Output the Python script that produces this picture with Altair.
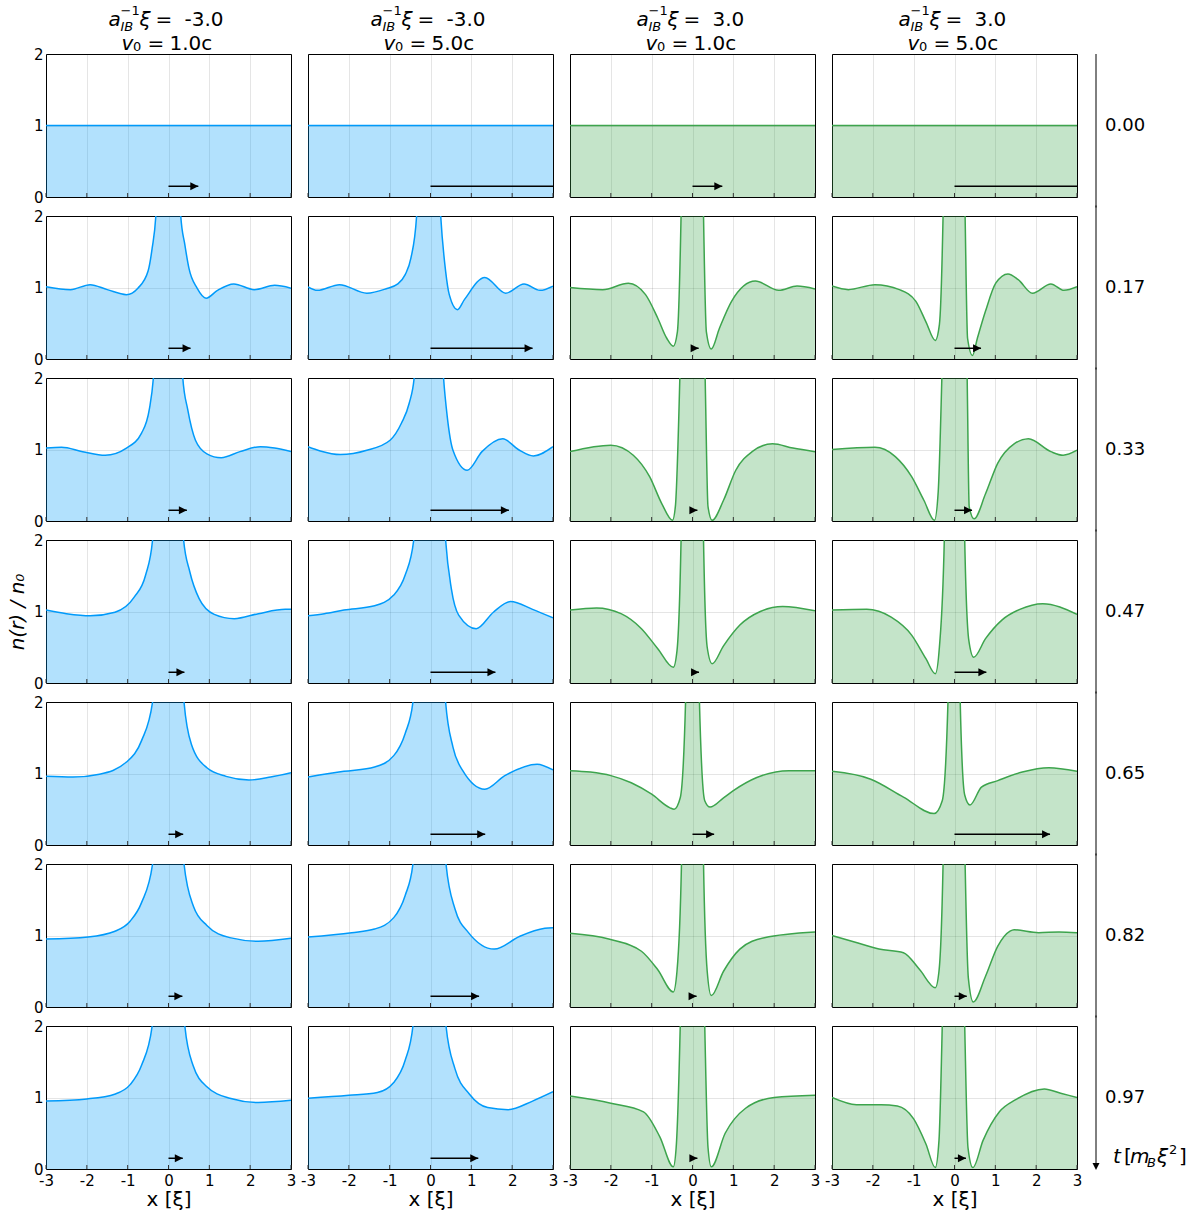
import altair as alt
import pandas as pd

FONT = "DejaVu Sans"
W, H = 245, 143          # size of one density panel
GAP_X, GAP_Y = 17, 19    # spacing between panels
TIME_W = 100             # width of the time-axis column

X_TICKS = [-3, -2, -1, 0, 1, 2, 3]
Y_TICKS = [0, 1, 2]
TIMES = ["0.00", "0.17", "0.33", "0.47", "0.65", "0.82", "0.97"]
COUPLING = ["-3.0", "-3.0", "3.0", "3.0"]
V0 = ["1.0c", "5.0c", "1.0c", "5.0c"]
COLORS = ["#009AFA", "#009AFA", "#3DA44D", "#3DA44D"]

# impurity velocity arrows (length in units of xi), one list per column
ARROW_C1 = [0.73, 0.54, 0.45, 0.39, 0.36, 0.34, 0.35]
ARROW_C2 = [3.65, 2.50, 1.92, 1.59, 1.34, 1.19, 1.17]
ARROW_C3 = [0.73, 0.15, 0.12, 0.16, 0.53, 0.10, 0.12]
ARROW_C4 = [3.65, 0.65, 0.43, 0.78, 2.34, 0.30, 0.28]

FLAT = [(-3.0, 1.0), (3.0, 1.0)]

# attractive coupling, v0 = 1.0c
NEG_SLOW_017 = [(-3, 1.01), (-2.4, 0.97), (-1.92, 1.04), (-1.5, 0.97), (-1.03, 0.90), (-0.75, 0.99),
                (-0.5, 1.23), (-0.4, 1.55), (-0.31, 2.0), (-0.2, 3.5), (0.0, 6.0), (0.2, 3.5), (0.30, 2.0),
                (0.4, 1.6), (0.5, 1.27), (0.7, 0.99), (0.92, 0.85), (1.2, 0.96), (1.6, 1.05), (2.1, 0.97),
                (2.6, 1.03), (3, 0.99)]
NEG_SLOW_033 = [(-3, 1.02), (-2.62, 1.03), (-2.1, 0.97), (-1.55, 0.92), (-1.03, 1.02), (-0.66, 1.23),
                (-0.47, 1.56), (-0.37, 2.0), (-0.2, 4.0), (0.0, 6.0), (0.2, 4.0), (0.35, 2.0), (0.47, 1.56),
                (0.66, 1.13), (0.94, 0.94), (1.29, 0.885), (1.75, 0.97), (2.25, 1.04), (2.6, 1.02), (3, 0.97)]
NEG_SLOW_047 = [(-3, 1.02), (-2.5, 0.97), (-1.92, 0.94), (-1.31, 0.99), (-0.84, 1.2), (-0.56, 1.51),
                (-0.39, 2.0), (-0.2, 4.0), (0.0, 6.0), (0.2, 4.0), (0.37, 2.0), (0.52, 1.56), (0.75, 1.18),
                (1.12, 0.96), (1.61, 0.9), (2.2, 0.97), (2.86, 1.03), (3, 1.03)]
NEG_SLOW_065 = [(-3, 0.96), (-2.34, 0.95), (-1.69, 0.99), (-1.03, 1.16), (-0.66, 1.46), (-0.39, 2.0),
                (-0.2, 4.0), (0.0, 6.0), (0.2, 4.0), (0.38, 2.0), (0.56, 1.41), (0.94, 1.08), (1.41, 0.96),
                (1.97, 0.91), (2.5, 0.95), (3, 1.01)]
NEG_SLOW_082 = [(-3, 0.95), (-1.97, 0.98), (-1.31, 1.06), (-0.94, 1.2), (-0.66, 1.46), (-0.39, 2.0),
                (-0.2, 4.0), (0.0, 6.0), (0.2, 4.0), (0.38, 2.0), (0.61, 1.41), (0.94, 1.14), (1.5, 0.97),
                (2.2, 0.92), (3, 0.96)]
NEG_SLOW_097 = [(-3, 0.95), (-2, 0.98), (-1.3, 1.05), (-0.94, 1.18), (-0.66, 1.45), (-0.4, 2.0),
                (-0.2, 4.0), (0.0, 6.0), (0.2, 4.0), (0.4, 2.0), (0.6, 1.45), (0.94, 1.15), (1.5, 0.99),
                (2.2, 0.93), (3, 0.96)]

# attractive coupling, v0 = 5.0c
NEG_FAST_017 = [(-3, 1.01), (-2.77, 0.96), (-2.23, 1.04), (-1.56, 0.92), (-1.1, 0.98), (-0.8, 1.05),
                (-0.62, 1.18), (-0.48, 1.41), (-0.34, 2.0), (-0.2, 4.0), (0.0, 6.0), (0.1, 4.0), (0.25, 2.0),
                (0.37, 1.23), (0.46, 0.9), (0.66, 0.69), (0.83, 0.83), (1.33, 1.14), (1.84, 0.92),
                (2.29, 1.05), (2.68, 0.96), (3, 1.02)]
NEG_FAST_033 = [(-3, 1.04), (-2.7, 0.98), (-2.21, 0.93), (-1.56, 0.99), (-0.99, 1.13), (-0.71, 1.37),
                (-0.52, 1.65), (-0.40, 2.0), (-0.2, 4.0), (0.0, 6.0), (0.15, 4.0), (0.32, 2.0), (0.41, 1.46),
                (0.55, 0.99), (0.9, 0.71), (1.26, 0.97), (1.77, 1.15), (2.15, 1.0), (2.52, 0.91), (3, 1.04)]
NEG_FAST_047 = [(-3, 0.94), (-2.6, 0.97), (-2.12, 1.02), (-1.37, 1.08), (-0.9, 1.23), (-0.62, 1.51),
                (-0.41, 2.0), (-0.2, 4.0), (0.0, 6.0), (0.2, 4.0), (0.37, 2.0), (0.51, 1.32), (0.69, 0.95),
                (1.12, 0.76), (1.54, 0.99), (1.96, 1.14), (2.5, 1.03), (3, 0.91)]
NEG_FAST_065 = [(-3, 0.95), (-2.12, 1.03), (-1.37, 1.09), (-0.9, 1.25), (-0.62, 1.56), (-0.43, 2.0),
                (-0.2, 4.0), (0.0, 6.0), (0.2, 4.0), (0.37, 2.0), (0.55, 1.37), (0.79, 1.04), (1.33, 0.78),
                (1.82, 0.97), (2.61, 1.13), (3, 1.05)]
NEG_FAST_082 = [(-3, 0.98), (-1.93, 1.04), (-1.37, 1.09), (-0.9, 1.25), (-0.62, 1.56), (-0.43, 2.0),
                (-0.2, 4.0), (0.0, 6.0), (0.2, 4.0), (0.38, 2.0), (0.6, 1.37), (0.93, 1.04), (1.56, 0.81),
                (2.19, 0.99), (2.8, 1.1), (3, 1.11)]
NEG_FAST_097 = [(-3, 0.99), (-2, 1.03), (-1.3, 1.07), (-0.9, 1.21), (-0.62, 1.52), (-0.43, 2.0),
                (-0.2, 4.0), (0.0, 6.0), (0.2, 4.0), (0.38, 2.0), (0.6, 1.4), (0.95, 1.05), (1.4, 0.86),
                (1.9, 0.83), (2.5, 0.95), (3, 1.08)]

# repulsive coupling, v0 = 1.0c
POS_SLOW_017 = [(-3, 1.0), (-2.2, 0.97), (-1.57, 1.06), (-1.15, 0.9), (-0.85, 0.57), (-0.63, 0.29),
                (-0.47, 0.18), (-0.37, 0.38), (-0.28, 2.0), (-0.2, 5.0), (0.0, 8.0), (0.2, 5.0), (0.27, 2.0),
                (0.34, 0.38), (0.46, 0.14), (0.66, 0.43), (0.96, 0.81), (1.54, 1.09), (2.11, 0.96),
                (2.56, 1.02), (3, 0.98)]
POS_SLOW_033 = [(-3, 0.97), (-2.0, 1.06), (-1.45, 0.92), (-1.05, 0.62), (-0.75, 0.24), (-0.49, 0.01),
                (-0.42, 0.2), (-0.31, 2.0), (-0.2, 5.0), (0.0, 8.0), (0.2, 5.0), (0.31, 2.0), (0.38, 0.2),
                (0.48, 0.01), (0.76, 0.29), (1.06, 0.71), (1.46, 0.97), (1.96, 1.08), (2.46, 1.02), (3, 0.97)]
POS_SLOW_047 = [(-3, 1.02), (-2.35, 1.05), (-1.75, 0.97), (-1.25, 0.76), (-0.85, 0.48), (-0.47, 0.22),
                (-0.38, 0.45), (-0.28, 2.0), (-0.2, 5.0), (0.0, 8.0), (0.2, 5.0), (0.27, 2.0), (0.36, 0.5),
                (0.48, 0.27), (0.76, 0.52), (1.16, 0.81), (1.66, 1.0), (2.21, 1.07), (3, 1.01)]
POS_SLOW_065 = [(-3, 1.04), (-2.5, 1.02), (-2, 0.97), (-1.5, 0.87), (-1, 0.71), (-0.55, 0.52), (-0.45, 0.5),
                (-0.3, 0.66), (-0.17, 2.0), (-0.08, 5.0), (0.0, 8.0), (0.08, 5.0), (0.17, 2.0), (0.3, 0.62),
                (0.43, 0.53), (0.76, 0.66), (1.0, 0.76), (1.56, 0.94), (2.36, 1.04), (3, 1.04)]
POS_SLOW_082 = [(-3, 1.03), (-2.05, 0.95), (-1.25, 0.78), (-0.85, 0.52), (-0.47, 0.21), (-0.38, 0.5),
                (-0.27, 2.0), (-0.2, 5.0), (0.0, 8.0), (0.2, 5.0), (0.27, 2.0), (0.36, 0.5), (0.46, 0.16),
                (0.76, 0.5), (1.16, 0.81), (1.76, 0.97), (3, 1.05)]
POS_SLOW_097 = [(-3, 1.02), (-2, 0.92), (-1.2, 0.8), (-0.8, 0.45), (-0.47, 0.03), (-0.4, 0.3), (-0.3, 2.0),
                (-0.2, 5.0), (0.0, 8.0), (0.2, 5.0), (0.3, 2.0), (0.38, 0.3), (0.46, 0.03), (0.8, 0.5),
                (1.3, 0.85), (2, 1.0), (3, 1.03)]

# repulsive coupling, v0 = 5.0c
POS_FAST_017 = [(-3, 1.02), (-2.6, 0.97), (-1.95, 1.04), (-1.35, 0.97), (-0.95, 0.81), (-0.7, 0.52),
                (-0.47, 0.26), (-0.37, 0.48), (-0.28, 2.0), (-0.2, 5.0), (0.0, 8.0), (0.18, 5.0), (0.26, 2.0),
                (0.32, 0.29), (0.44, 0.05), (0.56, 0.29), (0.76, 0.67), (1.01, 1.06), (1.31, 1.19),
                (1.56, 1.11), (1.91, 0.92), (2.36, 1.05), (2.68, 0.96), (3, 1.01)]
POS_FAST_033 = [(-3, 1.0), (-1.95, 1.03), (-1.45, 0.9), (-1.05, 0.62), (-0.75, 0.29), (-0.49, 0.01),
                (-0.4, 0.4), (-0.31, 2.0), (-0.2, 5.0), (0.0, 8.0), (0.2, 5.0), (0.31, 2.0), (0.36, 0.2),
                (0.48, 0.03), (0.76, 0.38), (1.06, 0.81), (1.46, 1.08), (1.81, 1.15), (2.36, 0.97),
                (2.66, 0.92), (3, 0.99)]
POS_FAST_047 = [(-3, 1.02), (-2.15, 1.03), (-1.55, 0.92), (-1.05, 0.67), (-0.7, 0.34), (-0.47, 0.13),
                (-0.37, 0.5), (-0.25, 2.0), (-0.17, 5.0), (0.0, 8.0), (0.17, 5.0), (0.25, 2.0), (0.35, 0.6),
                (0.47, 0.36), (0.76, 0.62), (1.16, 0.88), (1.6, 1.03), (2.16, 1.11), (3, 0.96)]
POS_FAST_065 = [(-3, 1.03), (-2.05, 0.92), (-1.25, 0.67), (-0.5, 0.44), (-0.3, 0.62), (-0.16, 2.0),
                (-0.08, 5.0), (0.0, 8.0), (0.07, 5.0), (0.14, 2.0), (0.25, 0.7), (0.38, 0.56), (0.66, 0.81),
                (1.06, 0.9), (1.66, 1.02), (2.31, 1.08), (3, 1.03)]
POS_FAST_082 = [(-3, 1.0), (-2.45, 0.91), (-1.85, 0.81), (-1.25, 0.76), (-0.85, 0.52), (-0.47, 0.27),
                (-0.38, 0.5), (-0.28, 2.0), (-0.2, 5.0), (0.0, 8.0), (0.18, 5.0), (0.26, 2.0), (0.34, 0.4),
                (0.46, 0.07), (0.76, 0.43), (1.06, 0.85), (1.36, 1.06), (1.46, 1.08), (2.06, 1.04),
                (2.56, 1.05), (3, 1.04)]
POS_FAST_097 = [(-3, 1.0), (-2.4, 0.9), (-1.8, 0.9), (-1.4, 0.88), (-1.0, 0.7), (-0.7, 0.35), (-0.47, 0.02),
                (-0.38, 0.4), (-0.3, 2.0), (-0.2, 5.0), (0.0, 8.0), (0.15, 5.0), (0.25, 2.0), (0.33, 0.3),
                (0.45, 0.02), (0.7, 0.4), (1.1, 0.8), (1.5, 0.97), (2.2, 1.12), (2.6, 1.06), (3, 1.0)]

COLUMNS = [
    [FLAT, NEG_SLOW_017, NEG_SLOW_033, NEG_SLOW_047, NEG_SLOW_065, NEG_SLOW_082, NEG_SLOW_097],
    [FLAT, NEG_FAST_017, NEG_FAST_033, NEG_FAST_047, NEG_FAST_065, NEG_FAST_082, NEG_FAST_097],
    [FLAT, POS_SLOW_017, POS_SLOW_033, POS_SLOW_047, POS_SLOW_065, POS_SLOW_082, POS_SLOW_097],
    [FLAT, POS_FAST_017, POS_FAST_033, POS_FAST_047, POS_FAST_065, POS_FAST_082, POS_FAST_097],
]
ARROWS = [ARROW_C1, ARROW_C2, ARROW_C3, ARROW_C4]

ARROW_Y = 0.15
HEAD_RIGHT = "M0,0L-2,-1L-2,1Z"     # tip sits on the anchor point
HEAD_DOWN = "M0,0L-1,-2L1,-2Z"
ONE = pd.DataFrame({"k": [0]})


def text_piece(s, px, py, size, italic=False, baseline="alphabetic"):
    kw = dict(align="left", baseline=baseline, font=FONT, fontSize=size, color="#000")
    if italic:
        kw["fontStyle"] = "italic"
    return alt.Chart(pd.DataFrame({"s": [s]})).mark_text(**kw).encode(
        text="s:N", x=alt.value(px), y=alt.value(py))


def header(col):
    shift = 0 if COUPLING[col].startswith("-") else 4
    c = W / 2 + shift
    y1 = -28
    parts = [
        text_piece("a", c - 60, y1, 20, True),
        text_piece("−1", c - 48, y1 - 11, 13),
        text_piece("IB", c - 48, y1 + 5, 13, True),
        text_piece("ξ", c - 29, y1, 20, True),
        text_piece("=", c - 13, y1, 20),
        text_piece(COUPLING[col], c + 16, y1, 20),
    ]
    c2 = W / 2
    y2 = -4
    parts += [
        text_piece("v", c2 - 47, y2, 20, True),
        text_piece("0", c2 - 35.5, y2 + 1, 13),
        text_piece("=", c2 - 21, y2, 20),
        text_piece(V0[col], c2 + 1, y2, 20),
    ]
    return parts


def panel(row, col):
    curve = pd.DataFrame(COLUMNS[col][row], columns=["x", "n"])
    color = COLORS[col]
    last = row == len(TIMES) - 1

    xscale = alt.Scale(domain=[-3, 3], nice=False, zero=False)
    yscale = alt.Scale(domain=[0, 2], nice=False, zero=False)
    if last:
        xaxis = alt.Axis(values=X_TICKS, labelExpr="'' + datum.value", labelFlush=False,
                         labelPadding=4, labelFontSize=15, title="x [ξ]", titleFontSize=20,
                         titlePadding=1)
    else:
        xaxis = alt.Axis(values=X_TICKS, labels=False, title=None)
    if col == 0:
        ykw = dict(values=Y_TICKS, labelExpr="'' + datum.value", labelPadding=3, labelFontSize=15)
        if row == 3:
            ykw.update(title="n(r) / n₀", titleFontSize=20, titleFontStyle="italic", titlePadding=6)
        else:
            ykw.update(title=None)
        yaxis = alt.Axis(**ykw)
    else:
        yaxis = alt.Axis(values=Y_TICKS, labels=False, title=None)

    x_enc = alt.X("x:Q", scale=xscale, axis=xaxis)
    y_enc = alt.Y("n:Q", scale=yscale, axis=yaxis)

    area = alt.Chart(curve).mark_area(clip=True, interpolate="monotone", color=color,
                                      opacity=0.3).encode(x=x_enc, y=y_enc)
    line = alt.Chart(curve).mark_line(clip=True, interpolate="monotone", color=color,
                                      strokeWidth=1.5).encode(x=x_enc, y=y_enc)
    ticks = alt.Chart(pd.DataFrame({"x": X_TICKS})).mark_rule(color="#333", strokeWidth=1).encode(
        x=x_enc, y=alt.value(H), y2=alt.value(H - 4))

    arrow = pd.DataFrame({"x": [0.0], "x_end": [ARROWS[col][row]], "n": [ARROW_Y]})
    shaft = alt.Chart(arrow).mark_rule(clip=True, color="#000", strokeWidth=1.5).encode(
        x=x_enc, x2="x_end:Q", y=y_enc)
    head = alt.Chart(arrow).mark_point(clip=True, shape=HEAD_RIGHT, filled=True, size=64,
                                       color="#000", opacity=1).encode(
        x=alt.X("x_end:Q", scale=xscale, axis=xaxis), y=y_enc)

    layers = [area, ticks, line, shaft, head]
    if row == 0:
        layers += header(col)
    return alt.layer(*layers).properties(width=W, height=H)


def time_cell(row):
    # one slice of the downward time axis, with the time stamp of that row
    last = row == len(TIMES) - 1
    x0 = 2
    top = 0 if row == 0 else -GAP_Y / 2 - 1
    bottom = H - 4 if last else H + GAP_Y / 2 + 1
    layers = [
        alt.Chart(ONE).mark_rule(color="#000", strokeWidth=1).encode(
            x=alt.value(x0), y=alt.value(top), y2=alt.value(bottom)),
        text_piece(TIMES[row], x0 + 9, H / 2, 18, baseline="middle"),
    ]
    if last:
        yb = H - 6
        layers += [
            alt.Chart(ONE).mark_point(shape=HEAD_DOWN, filled=True, size=49, color="#000",
                                      opacity=1).encode(x=alt.value(x0), y=alt.value(H + 1)),
            text_piece("t", x0 + 17, yb, 20, True),
            text_piece("[", x0 + 28, yb, 20),
            text_piece("m", x0 + 34, yb, 20, True),
            text_piece("B", x0 + 51, yb + 4, 13, True),
            text_piece("ξ", x0 + 61, yb, 20, True),
            text_piece("2", x0 + 73, yb - 9, 13),
            text_piece("]", x0 + 83, yb, 20),
        ]
    return alt.layer(*layers).properties(
        width=TIME_W, height=H, view=alt.ViewBackground(stroke="transparent"))


cells = []
for r in range(len(TIMES)):
    cells += [panel(r, c) for c in range(4)]
    cells.append(time_cell(r))

chart = alt.concat(
    *cells, columns=5, spacing={"row": GAP_Y, "column": GAP_X}, bounds="flush", align="each"
).properties(
    padding={"left": 6, "top": 4, "right": 0, "bottom": 0}
).configure_view(
    stroke="#000", strokeWidth=1
).configure_axis(
    grid=True, gridColor="#000", gridOpacity=0.1, gridWidth=1, domain=False, ticks=False,
    labelColor="#000", titleColor="#000", labelFont=FONT, titleFont=FONT, titleFontWeight="normal"
)

chart.save("out.html", embed_options={"renderer": "svg", "actions": False})
